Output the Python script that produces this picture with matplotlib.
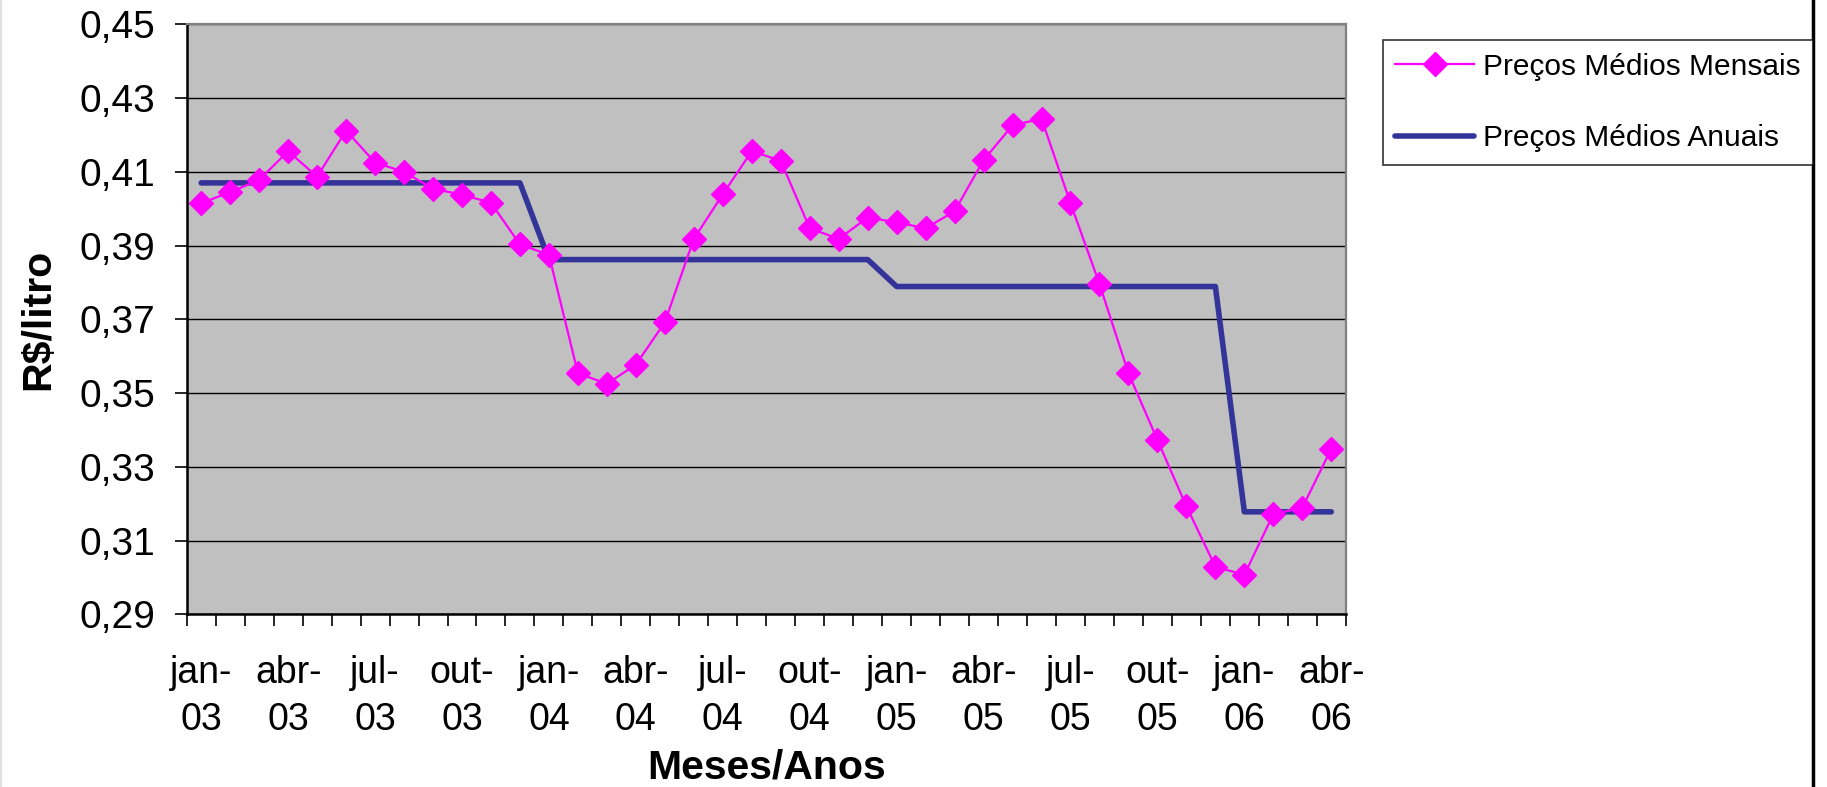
import matplotlib
matplotlib.use("Agg")
import matplotlib.pyplot as plt
from matplotlib.lines import Line2D
from matplotlib.ticker import FixedLocator, FuncFormatter

plt.rcParams['font.family'] = ['Liberation Sans', 'DejaVu Sans']

# months jan-03 .. abr-06
meses = ['jan', 'fev', 'mar', 'abr', 'mai', 'jun', 'jul', 'ago', 'set', 'out', 'nov', 'dez']
anos = ['03', '04', '05', '06']
categorias = [m + '-' + a for a in anos for m in meses][:40]

precos_mensais = [0.4015, 0.4045, 0.4078, 0.4156, 0.4087, 0.4212, 0.4125, 0.4100, 0.4054, 0.4038, 0.4016, 0.3903,
                  0.3875, 0.3554, 0.3525, 0.3577, 0.3692, 0.3918, 0.4039, 0.4156, 0.4130, 0.3947, 0.3918, 0.3976,
                  0.3963, 0.3947, 0.3993, 0.4132, 0.4226, 0.4244, 0.4015, 0.3796, 0.3554, 0.3373, 0.3193, 0.3029,
                  0.3007, 0.3172, 0.3189, 0.3349]
media_anual = [0.4070, 0.3862, 0.3789, 0.3178]

precos_anuais = [media_anual[anos.index(c[-2:])] for c in categorias]

x = list(range(len(categorias)))

fig = plt.figure(figsize=(18.27, 7.87), dpi=100)
ax = fig.add_axes([0.1022, 0.2194, 0.6344, 0.7497])
ax.set_facecolor('#C0C0C0')

ax.plot(x, precos_mensais, color='#FF00FF', lw=1.6, marker='D', ms=12,
        mec='#FF00FF', mfc='#FF00FF', label='Preços Médios Mensais', zorder=4)
ax.plot(x, precos_anuais, color='#333399', lw=4.0, solid_capstyle='round',
        label='Preços Médios Anuais', zorder=3)

ax.set_xlim(-0.5, len(categorias) - 0.5)
ax.set_ylim(0.29, 0.45)

yt = [0.29 + 0.02 * i for i in range(9)]
ax.set_yticks(yt)
ax.yaxis.set_major_formatter(FuncFormatter(lambda v, p: ('%.2f' % v).replace('.', ',')))
ax.grid(axis='y', color='black', lw=1.0)
ax.set_axisbelow(True)

lab_pos = list(range(0, len(categorias), 3))
ax.set_xticks(lab_pos)
ax.set_xticklabels([categorias[i].replace('-', '-\n') for i in lab_pos], linespacing=1.38)
ax.xaxis.set_minor_locator(FixedLocator([i - 0.5 for i in range(len(categorias) + 1)]))

ax.tick_params(axis='x', which='major', length=0, pad=29.5, labelsize=27)
ax.tick_params(axis='x', which='minor', length=8.6, width=1.2, direction='out')
ax.tick_params(axis='y', which='major', length=8.6, width=1.2, direction='out', pad=14, labelsize=28)

for s in ['left', 'bottom']:
    ax.spines[s].set_color('black')
    ax.spines[s].set_linewidth(1.8)
for s in ['top', 'right']:
    ax.spines[s].set_color('#808080')
    ax.spines[s].set_linewidth(1.6)

ax.set_ylabel('R$/litro', fontsize=29.5, fontweight='bold')
ax.yaxis.set_label_coords(-0.112, 0.5)
ax.set_xlabel('Meses/Anos', fontsize=29.5, fontweight='bold')
ax.xaxis.set_label_coords(0.5, -0.227)

leg = fig.legend(loc='upper left', bbox_to_anchor=(0.7568, 0.9492), fontsize=21.5,
                 frameon=True, fancybox=False, shadow=False, numpoints=1,
                 borderpad=0.42, labelspacing=1.47, handlelength=2.65, handletextpad=0.28,
                 borderaxespad=0)
leg.get_frame().set_edgecolor('black')
leg.get_frame().set_linewidth(1.2)

# chart border lines
fig.add_artist(Line2D([1813 / 1827, 1813 / 1827], [0, 1], transform=fig.transFigure, color='black', lw=2.5))
fig.add_artist(Line2D([1 / 1827, 1 / 1827], [0, 1], transform=fig.transFigure, color='#E0E0E0', lw=1.5))

fig.savefig('out.png', dpi=100)
